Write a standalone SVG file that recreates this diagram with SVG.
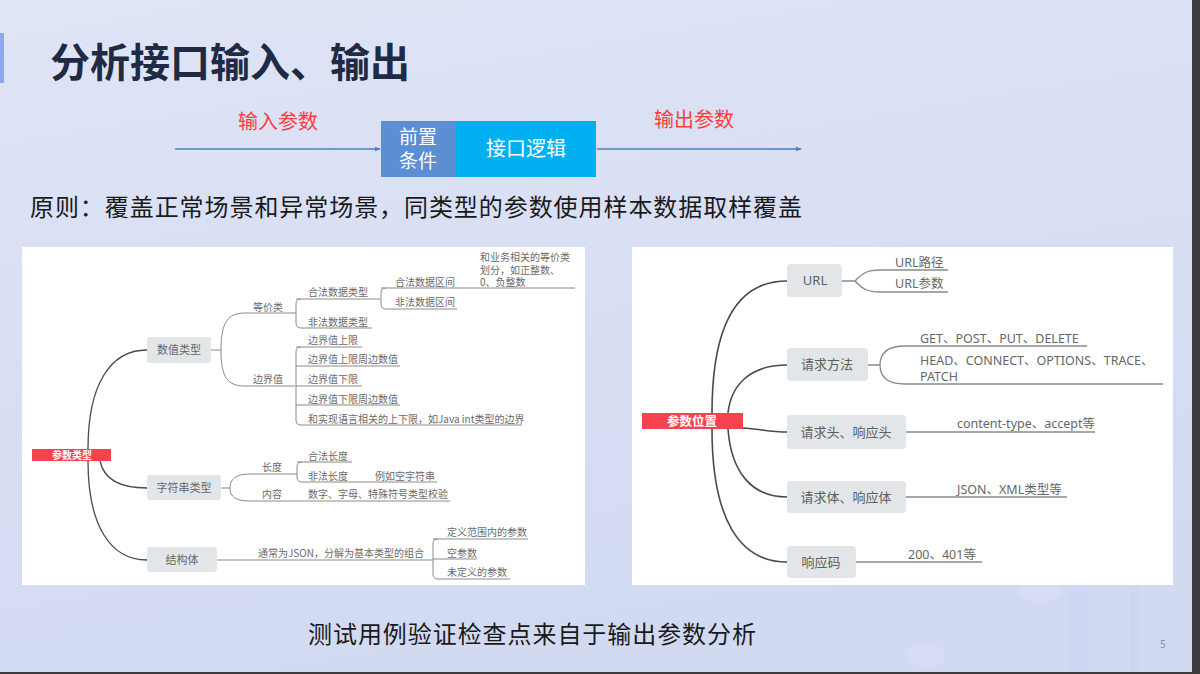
<svg xmlns="http://www.w3.org/2000/svg" width="1200" height="674" viewBox="0 0 1200 674">
<defs>
<linearGradient id="bg" x1="0" y1="0" x2="0.3" y2="1">
<stop offset="0" stop-color="#dfe4f6"/>
<stop offset="1" stop-color="#d2daf2"/>
</linearGradient>
<marker id="ah" viewBox="0 0 10 10" refX="9" refY="5" markerWidth="6" markerHeight="6" orient="auto" markerUnits="userSpaceOnUse">
<path d="M0 1 L10 5 L0 9 Z" fill="#4f7cc0"/>
</marker>
<style>
.cjk{font-family:"Noto Sans CJK SC","Noto Sans",sans-serif}
.sm{font-family:"Noto Sans CJK SC","Noto Sans",sans-serif;font-size:10px;fill:#6a6a6a}
.rt{font-family:"Noto Sans","Noto Sans CJK SC",sans-serif;font-size:12.5px;fill:#666}
.nd{fill:#e3e6e8}
.ntL{font-family:"Noto Sans CJK SC",sans-serif;font-size:11px;fill:#666;text-anchor:middle}
.ntR{font-family:"Noto Sans","Noto Sans CJK SC",sans-serif;font-size:13px;fill:#5e5e5e;text-anchor:middle}
.tr{fill:none;stroke:#4a4a4a;stroke-width:1.3}
.ul{fill:none;stroke:#8a8a8a;stroke-width:1}
.trR{fill:none;stroke:#4a4a4a;stroke-width:1.6}
.ulR{fill:none;stroke:#8a8a8a;stroke-width:1.3}
</style>
</defs>
<rect x="0" y="0" width="1200" height="674" fill="url(#bg)"/>
<g opacity="0.2">
<rect x="1068" y="586" width="20" height="86" fill="#c6d4f4"/>
<rect x="1105" y="586" width="14" height="86" fill="#c9d3f6"/>
<rect x="1130" y="586" width="10" height="86" fill="#c3cdf2"/>
<ellipse cx="1040" cy="592" rx="22" ry="10" fill="#eef1fc"/>
<ellipse cx="925" cy="655" rx="20" ry="12" fill="#e6ebfa"/>
</g>
<rect x="1192" y="0" width="8" height="674" fill="#3b3b3d"/>
<rect x="0" y="672" width="1200" height="2" fill="#3b3b3d"/>
<rect x="0" y="33" width="4" height="50" fill="#8ea6f2"/>

<g id="title">
<text x="50" y="77" class="cjk" font-size="40" font-weight="bold" fill="#1f2a44">分析接口输入、输出</text>
</g>

<g id="flow-connectors">
<line x1="175" y1="149" x2="380" y2="149" stroke="#4f7cc0" stroke-width="1.3" marker-end="url(#ah)"/>
<line x1="597" y1="149" x2="801" y2="149" stroke="#4f7cc0" stroke-width="1.3" marker-end="url(#ah)"/>
<text x="238" y="129" class="cjk" font-size="20" fill="#ff3b3b">输入参数</text>
<text x="654" y="127" class="cjk" font-size="20" fill="#ff3b3b">输出参数</text>
</g>
<g id="pre">
<rect x="381" y="121" width="75" height="56" fill="#5b8ed2"/>
<text class="cjk" font-size="19" fill="#fff" text-anchor="middle"><tspan x="418" y="144">前置</tspan><tspan x="418" y="168">条件</tspan></text>
</g>
<g id="logic">
<rect x="456" y="121" width="140" height="56" fill="#00b0f0"/>
<text x="526" y="156" class="cjk" font-size="20" fill="#fff" text-anchor="middle">接口逻辑</text>
</g>

<text x="30" y="216" class="cjk" font-size="24" fill="#1a1a1a" textLength="772" lengthAdjust="spacing">原则：覆盖正常场景和异常场景，同类型的参数使用样本数据取样覆盖</text>

<rect x="22" y="247" width="563" height="338" fill="#fff"/>
<rect x="632" y="247" width="541" height="338" fill="#fff"/>

<g id="left-connectors">
<path class="tr" d="M88 449 C88 385 110 350 147 350"/>
<path class="tr" d="M100 461 C104 480 120 488 147 488"/>
<path class="tr" d="M88 461 C88 525 110 560 147 560"/>
<path class="ul" d="M211 350 H221 M221 350 C221 322 228 313 245 313 H295 M221 350 C221 378 228 386 245 386 H295"/>
<path class="ul" d="M301 299 Q296 299 296 304 V323 Q296 328 301 328 H372 M296 313 H295 M296 299 H380"/>
<path class="ul" d="M386 288 Q381 288 381 293 V304 Q381 309 386 309 H457 M381 288 H575"/>
<path class="ul" d="M301 347 Q296 347 296 352 V420 Q296 425 301 425 H522 M296 347 H362 M296 366 H400 M296 386 H362 M296 405 H400"/>
<path class="ul" d="M221 488 H230 M230 488 C230 479 236 474 250 474 H297 M230 488 C230 497 236 501 250 501 H450"/>
<path class="ul" d="M302 462 Q297 462 297 467 V477 Q297 482 302 482 H437 M297 462 H352"/>
<path class="ul" d="M217 560 H433 M438 539 Q433 539 433 544 V574 Q433 579 438 579 H510 M433 539 H528 M433 559 H477"/>
</g>
<g id="root-left">
<rect x="32" y="449" width="79" height="12" fill="#f5424f"/>
<text x="72" y="459" class="cjk" font-size="10" font-weight="bold" fill="#fff" text-anchor="middle">参数类型</text>
</g>
<g id="num-type"><rect class="nd" x="147" y="337" width="64" height="26" rx="3"/><text class="ntL" x="179" y="354">数值类型</text></g>
<g id="str-type"><rect class="nd" x="147" y="475" width="74" height="25" rx="3"/><text class="ntL" x="184" y="492">字符串类型</text></g>
<g id="struct"><rect class="nd" x="147" y="547" width="70" height="25" rx="3"/><text class="ntL" x="182" y="564">结构体</text></g>
<g id="left-labels">
<text class="sm" x="253" y="311">等价类</text>
<text class="sm" x="253" y="383">边界值</text>
<text class="sm" x="308" y="296">合法数据类型</text>
<text class="sm" x="308" y="326">非法数据类型</text>
<text class="sm" x="395" y="286">合法数据区间</text>
<text class="sm" x="395" y="306">非法数据区间</text>
<text class="sm"><tspan x="480" y="261">和业务相关的等价类</tspan><tspan x="480" y="274">划分，如正整数、</tspan><tspan x="480" y="286">0、负整数</tspan></text>
<text class="sm" x="308" y="344">边界值上限</text>
<text class="sm" x="308" y="363">边界值上限周边数值</text>
<text class="sm" x="308" y="383">边界值下限</text>
<text class="sm" x="308" y="403">边界值下限周边数值</text>
<text class="sm" x="308" y="423">和实现语言相关的上下限，如Java int类型的边界</text>
<text class="sm" x="262" y="471">长度</text>
<text class="sm" x="262" y="498">内容</text>
<text class="sm" x="308" y="460">合法长度</text>
<text class="sm" x="308" y="480">非法长度</text>
<text class="sm" x="375" y="480">例如空字符串</text>
<text class="sm" x="308" y="498">数字、字母、特殊符号类型校验</text>
<text class="sm" x="258" y="557">通常为JSON，分解为基本类型的组合</text>
<text class="sm" x="447" y="536">定义范围内的参数</text>
<text class="sm" x="447" y="557">空参数</text>
<text class="sm" x="447" y="576">未定义的参数</text>
</g>

<g id="right-connectors">
<path class="trR" d="M712 413 C712 320 740 281 787 281"/>
<path class="trR" d="M728 413 C731 385 750 365 787 365"/>
<path class="trR" d="M743 428 C760 429 770 432 787 432"/>
<path class="trR" d="M728 429 C731 470 750 497 787 497"/>
<path class="trR" d="M712 429 C712 520 740 562 787 562"/>
<path class="ulR" d="M842 281 H855 M855 281 C862 273 868 270 880 270 H948 M855 281 C862 289 868 292 880 292 H948"/>
<path class="ulR" d="M868 365 H880 M880 365 C880 351 890 346 905 346 H1087 M880 365 C880 379 890 384 905 384 H1163"/>
<path class="ulR" d="M906 432 H1095"/>
<path class="ulR" d="M906 497 H1067"/>
<path class="ulR" d="M856 562 H982"/>
</g>
<g id="root-right">
<rect x="642" y="413" width="101" height="16" fill="#f5424f"/>
<text x="692" y="426" class="cjk" font-size="12.5" font-weight="bold" fill="#fff" text-anchor="middle">参数位置</text>
</g>
<g id="url"><rect class="nd" x="787" y="264" width="55" height="33" rx="4"/><text class="ntR" x="815" y="285">URL</text></g>
<g id="method"><rect class="nd" x="787" y="348" width="81" height="33" rx="4"/><text class="ntR" x="827" y="369">请求方法</text></g>
<g id="header"><rect class="nd" x="787" y="415" width="119" height="34" rx="4"/><text class="ntR" x="846" y="437">请求头、响应头</text></g>
<g id="body"><rect class="nd" x="787" y="481" width="119" height="32" rx="4"/><text class="ntR" x="846" y="502">请求体、响应体</text></g>
<g id="code"><rect class="nd" x="787" y="546" width="69" height="32" rx="4"/><text class="ntR" x="821" y="567">响应码</text></g>
<g id="right-labels">
<text class="rt" x="895" y="267">URL路径</text>
<text class="rt" x="895" y="288">URL参数</text>
<text class="rt" x="920" y="343">GET、POST、PUT、DELETE</text>
<text class="rt"><tspan x="920" y="365">HEAD、CONNECT、OPTIONS、TRACE、</tspan><tspan x="920" y="381">PATCH</tspan></text>
<text class="rt" x="957" y="428">content-type、accept等</text>
<text class="rt" x="957" y="494">JSON、XML类型等</text>
<text class="rt" x="908" y="559">200、401等</text>
</g>

<text x="308" y="643" class="cjk" font-size="24" fill="#1a1a1a" textLength="448" lengthAdjust="spacing">测试用例验证检查点来自于输出参数分析</text>
<text x="1160" y="648" font-family="Noto Sans, sans-serif" font-size="10" fill="#8a8fa0">5</text>
</svg>
